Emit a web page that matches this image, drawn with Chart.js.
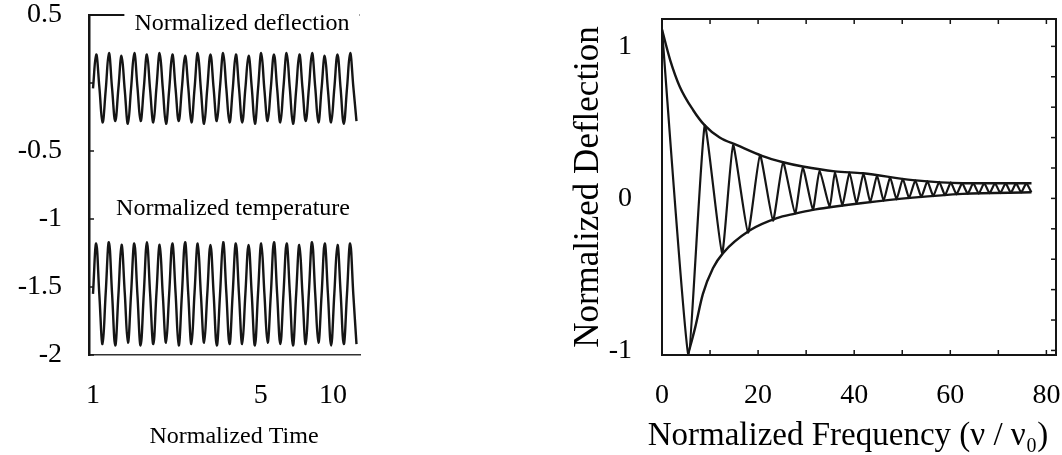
<!DOCTYPE html>
<html><head><meta charset="utf-8">
<script src="https://cdn.jsdelivr.net/npm/chart.js@4.4.0/dist/chart.umd.min.js"></script>
<style>
html,body{margin:0;padding:0;background:#fff;width:1062px;height:455px;overflow:hidden}
#c1{position:absolute;left:0;top:0;width:480px;height:455px}
#c2{position:absolute;left:480px;top:0;width:582px;height:455px}
</style></head><body>
<canvas id="c1" width="480" height="455"></canvas>
<canvas id="c2" width="582" height="455"></canvas>
<script>
// ---------- Left panel data ----------
const timeValues = [
 1.000,1.031,1.063,1.096,1.130,1.165,1.201,1.238,1.276,1.315,
 1.356,1.398,1.441,1.486,1.532,1.579,1.628,1.678,1.730,1.784,
 1.839,1.896,1.954,2.015,2.077,2.141,2.208,2.276,2.346,2.419,
 2.494,2.571,2.650,2.732,2.817,2.904,2.994,3.086,3.182,3.280,
 3.382,3.487,3.594,3.706,3.820,3.938,4.060,4.186,4.315,4.449,
 4.586,4.728,4.874,5.025,5.180,5.341,5.506,5.676,5.852,6.033,
 6.219,6.412,6.610,6.814,7.025,7.243,7.467,7.697,7.936,8.181,
 8.434,8.695,8.964,9.241,9.527,9.822,10.13,10.44,10.76,11.09,
 11.44,11.79,12.16,12.53];
const deflectionValues = [
 -0.04,0.21,-0.03,-0.29, -0.05,0.22,-0.04,-0.28,
 -0.04,0.20,-0.05,-0.30, -0.04,0.22,-0.03,-0.28,
 -0.04,0.21,-0.05,-0.29, -0.03,0.22,-0.04,-0.30,
 -0.05,0.21,-0.04,-0.28, -0.04,0.20,-0.03,-0.29,
 -0.04,0.22,-0.05,-0.30, -0.04,0.21,-0.04,-0.28,
 -0.03,0.22,-0.04,-0.29, -0.05,0.21,-0.04,-0.29,
 -0.04,0.20,-0.03,-0.30, -0.04,0.22,-0.05,-0.28,
 -0.04,0.21,-0.04,-0.29, -0.03,0.22,-0.04,-0.30,
 -0.05,0.21,-0.04,-0.28, -0.04,0.22,-0.03,-0.29,
 -0.04,0.20,-0.05,-0.29, -0.04,0.21,-0.04,-0.30,
 -0.04,0.22,-0.03,-0.28];
const temperatureValues = [
 -1.55,-1.18,-1.56,-1.92, -1.54,-1.17,-1.55,-1.93,
 -1.56,-1.19,-1.54,-1.91, -1.55,-1.18,-1.56,-1.93,
 -1.55,-1.17,-1.55,-1.92, -1.54,-1.19,-1.56,-1.91,
 -1.55,-1.18,-1.54,-1.93, -1.56,-1.17,-1.55,-1.92,
 -1.54,-1.18,-1.56,-1.91, -1.55,-1.19,-1.55,-1.93,
 -1.56,-1.17,-1.54,-1.92, -1.55,-1.18,-1.56,-1.92,
 -1.55,-1.19,-1.55,-1.93, -1.54,-1.18,-1.55,-1.91,
 -1.56,-1.17,-1.55,-1.92, -1.55,-1.18,-1.54,-1.93,
 -1.55,-1.19,-1.56,-1.92, -1.54,-1.17,-1.55,-1.91,
 -1.56,-1.18,-1.55,-1.93, -1.55,-1.19,-1.54,-1.92,
 -1.55,-1.18,-1.56,-1.92];
const leftYTicks = [0.5, 0, -0.5, -1, -1.5, -2];
const leftYLabels = ['0.5', '', '-0.5', '-1', '-1.5', '-2'];
const leftXTicks = [1, 5, 10];

// ---------- Right panel data ----------
const chirpFreq = [0,5.5,8.9,12.5,14.8,17.9,20.4,23.1,25.2,27.7,
 29.3,31.4,32.8,34.9,36.0,37.53,39.02,40.49,41.93,43.35,
 44.75,46.12,47.47,48.81,50.12,51.42,52.71,53.97,55.23,56.46,
 57.69,58.90,60.10,61.29,62.46,63.63,64.78,65.92,67.06,68.18,
 69.30,70.41,71.51,72.60,73.69,74.76,75.82,76.87];
const chirpDefl = [1.11,-1.03,0.48,-0.36,0.35,-0.225,0.285,-0.146,0.238,-0.099,
 0.205,-0.075,0.185,-0.058,0.175,-0.048,0.172,-0.035,0.165,-0.025,
 0.152,-0.016,0.140,-0.006,0.129,0.002,0.119,0.009,0.114,0.015,
 0.109,0.021,0.105,0.027,0.100,0.031,0.100,0.032,0.100,0.034,
 0.100,0.035,0.100,0.037,0.100,0.039,0.100,0.040];
const upperFreq = [0,1.7,3.7,6.5,8.9,12,15.6,20.8,25.2,29.3,36,41.8,52.2,62.6,76.9];
const upperEnv  = [1.11,0.91,0.735,0.58,0.48,0.40,0.35,0.28,0.238,0.21,0.178,0.165,0.12,0.10,0.10];
const lowerFreq = [5.4,6.9,8.5,10.6,12.7,18.3,23.9,27.7,31.4,34.9,41.8,52.2,62.6,76.9];
const lowerEnv  = [-1.03,-0.85,-0.63,-0.46,-0.36,-0.21,-0.13,-0.10,-0.075,-0.058,-0.03,0.005,0.03,0.04];
const rightXTicks = [0, 20, 40, 60, 80];
const rightYTicks = [-1, 0, 1];

// ---------- helpers ----------
const SERIF = "'Liberation Serif','Times New Roman',serif";
const pts = (xs, ys) => xs.map((x, i) => ({x, y: ys[i]}));
const INK = '#151515';
const noPad = s => { s.paddingTop = 0; s.paddingBottom = 0; s.paddingLeft = 0; s.paddingRight = 0; };

const leftDecor = {
  id: 'leftDecor',
  afterDatasetsDraw(chart) {
    const {ctx, chartArea: a, scales} = chart;
    const ys = scales.y;
    ctx.save();
    ctx.strokeStyle = INK; ctx.lineWidth = 2;
    ctx.beginPath(); ctx.moveTo(a.left, a.top); ctx.lineTo(a.right, a.top); ctx.stroke();
    ctx.lineWidth = 1.5;
    leftYTicks.forEach(v => {
      const p = ys.getPixelForValue(v);
      ctx.beginPath(); ctx.moveTo(a.left, p); ctx.lineTo(a.left + 5, p); ctx.stroke();
    });
    ctx.font = '24px ' + SERIF;
    ctx.textAlign = 'center'; ctx.textBaseline = 'middle';
    const t1 = 'Normalized deflection';
    const cx1 = a.left + 153;
    const w1 = ctx.measureText(t1).width;
    ctx.fillStyle = '#fff';
    ctx.fillRect(cx1 - w1 / 2 - 10, a.top - 3, w1 + 20, 28);
    ctx.fillStyle = '#000';
    ctx.fillText(t1, cx1, a.top + 9);
    ctx.fillText('Normalized temperature', a.left + 144, ys.getPixelForValue(-1) - 10);
    ctx.fillText('Normalized Time', a.left + 145, 437);
    ctx.restore();
  }
};

const rightDecor = {
  id: 'rightDecor',
  afterDatasetsDraw(chart) {
    const {ctx, chartArea: a, scales} = chart;
    ctx.save();
    ctx.strokeStyle = INK; ctx.lineWidth = 2;
    ctx.strokeRect(a.left, a.top, a.right - a.left, a.bottom - a.top);
    ctx.lineWidth = 1.5;
    for (let v = 10; v <= 80; v += 10) {
      const p = scales.x.getPixelForValue(v);
      ctx.beginPath(); ctx.moveTo(p, a.bottom); ctx.lineTo(p, a.bottom - 5); ctx.stroke();
      ctx.beginPath(); ctx.moveTo(p, a.top); ctx.lineTo(p, a.top + 5); ctx.stroke();
    }
    for (let k = -5; k <= 5; k++) {
      const p = scales.y.getPixelForValue(k * 0.2);
      ctx.beginPath(); ctx.moveTo(a.right, p); ctx.lineTo(a.right - 5, p); ctx.stroke();
    }
    ctx.font = '33px ' + SERIF;
    ctx.fillStyle = '#000';
    ctx.textAlign = 'center'; ctx.textBaseline = 'middle';
    ctx.fillText('Normalized Frequency (\u03bd / \u03bd\u2080)', 848 - 480, 436);
    ctx.restore();
  }
};

Chart.defaults.font.family = SERIF;
Chart.defaults.color = '#000';

new Chart(document.getElementById('c1'), {
  type: 'line',
  data: {
    datasets: [
      {data: pts(timeValues, deflectionValues), borderColor: INK, borderWidth: 2.4, pointRadius: 0, tension: 0.4, fill: false},
      {data: pts(timeValues, temperatureValues), borderColor: INK, borderWidth: 2.4, pointRadius: 0, tension: 0.4, fill: false}
    ]
  },
  options: {
    responsive: false, animation: false, devicePixelRatio: 1,
    layout: {padding: {top: 15, right: 120, left: 0, bottom: 0}},
    plugins: {legend: {display: false}, tooltip: {enabled: false}},
    scales: {
      x: {
        type: 'logarithmic', min: 0.9624, max: 12.96,
        afterBuildTicks: s => { s.ticks = leftXTicks.map(v => ({value: v})); },
        afterFit: s => { s.height = 100; noPad(s); },
        ticks: {font: {size: 28}, padding: 24, color: '#000', callback: v => String(v), maxRotation: 0, autoSkip: false},
        grid: {display: false, drawTicks: false},
        border: {display: true, color: '#333', width: 1.5, dash: [3, 1]}
      },
      y: {
        type: 'linear', min: -2, max: 0.5,
        afterBuildTicks: s => { s.ticks = leftYTicks.map(v => ({value: v})); },
        afterFit: s => { s.width = 89; noPad(s); },
        ticks: {font: {size: 28}, padding: 27, color: '#000', autoSkip: false,
          callback: (v) => leftYLabels[leftYTicks.indexOf(v)] ?? ''},
        grid: {display: false, drawTicks: false},
        border: {display: true, color: INK, width: 2.5}
      }
    }
  },
  plugins: [leftDecor]
});

new Chart(document.getElementById('c2'), {
  type: 'line',
  data: {
    datasets: [
      {data: pts(upperFreq, upperEnv), borderColor: INK, borderWidth: 2.4, pointRadius: 0, cubicInterpolationMode: 'monotone', fill: false},
      {data: pts(lowerFreq, lowerEnv), borderColor: INK, borderWidth: 2.4, pointRadius: 0, cubicInterpolationMode: 'monotone', fill: false},
      {data: pts(chirpFreq, chirpDefl), borderColor: INK, borderWidth: 2.2, pointRadius: 0, tension: 0.15, fill: false}
    ]
  },
  options: {
    responsive: false, animation: false, devicePixelRatio: 1,
    layout: {padding: {top: 19, right: 6, left: 0, bottom: 0}},
    plugins: {legend: {display: false}, tooltip: {enabled: false}},
    scales: {
      x: {
        type: 'linear', min: 0, max: 82,
        afterBuildTicks: s => { s.ticks = rightXTicks.map(v => ({value: v})); },
        afterFit: s => { s.height = 100; noPad(s); },
        ticks: {font: {size: 28}, padding: 24, color: '#000', maxRotation: 0, autoSkip: false},
        grid: {display: false, drawTicks: false},
        border: {display: false}
      },
      y: {
        type: 'linear', min: -1.03, max: 1.18,
        afterBuildTicks: s => { s.ticks = rightYTicks.map(v => ({value: v})); },
        afterFit: s => { s.width = 182; noPad(s); },
        ticks: {font: {size: 28}, padding: 30, color: '#000', autoSkip: false},
        grid: {display: false, drawTicks: false},
        border: {display: false},
        title: {display: true, text: 'Normalized Deflection', font: {size: 35}, color: '#000', padding: {top: 88, bottom: 0}}
      }
    }
  },
  plugins: [rightDecor]
});
</script>
</body></html>
